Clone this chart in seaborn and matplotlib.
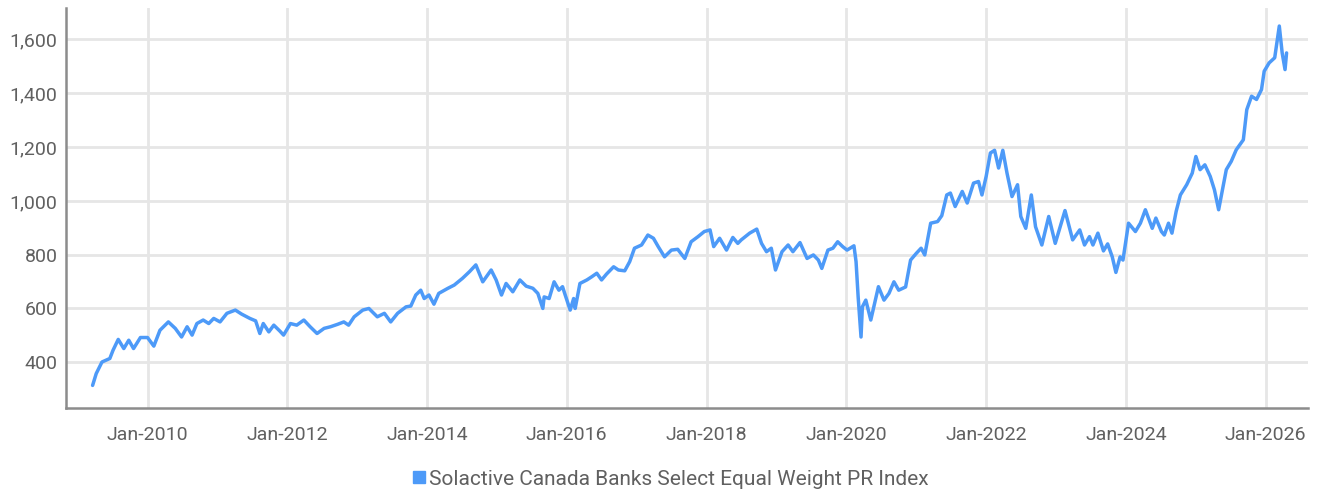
import pandas as pd
import matplotlib
matplotlib.use("Agg")
import matplotlib.pyplot as plt
import matplotlib.dates as mdates
from matplotlib.ticker import FuncFormatter
from matplotlib.lines import Line2D
import seaborn as sns

# values
dates = [
    "2009-03-20", "2009-04-08", "2009-05-08", "2009-06-18", "2009-07-05", "2009-08-01",
    "2009-08-30", "2009-09-25", "2009-10-20", "2009-11-25", "2010-01-01", "2010-02-03",
    "2010-03-07", "2010-04-20", "2010-05-26", "2010-06-28", "2010-07-27", "2010-08-22",
    "2010-09-16", "2010-10-19", "2010-11-17", "2010-12-13", "2011-01-15", "2011-02-20",
    "2011-04-05", "2011-05-08", "2011-06-20", "2011-07-20", "2011-08-11", "2011-08-29",
    "2011-09-27", "2011-10-23", "2011-11-25", "2011-12-13", "2012-01-18", "2012-02-20",
    "2012-03-28", "2012-04-30", "2012-06-05", "2012-07-12", "2012-08-14", "2012-09-20",
    "2012-10-23", "2012-11-17", "2012-12-16", "2013-01-30", "2013-03-03", "2013-04-16",
    "2013-05-23", "2013-06-25", "2013-07-31", "2013-09-13", "2013-10-08", "2013-11-03",
    "2013-11-29", "2013-12-17", "2014-01-11", "2014-02-06", "2014-03-03", "2014-04-20",
    "2014-05-23", "2014-07-05", "2014-08-11", "2014-09-13", "2014-10-19", "2014-12-02",
    "2014-12-28", "2015-01-25", "2015-02-18", "2015-03-25", "2015-05-01", "2015-06-03",
    "2015-07-08", "2015-08-03", "2015-08-29", "2015-09-05", "2015-10-01", "2015-10-27",
    "2015-11-21", "2015-12-10", "2015-12-24", "2016-01-19", "2016-02-06", "2016-02-14",
    "2016-03-10", "2016-04-15", "2016-05-11", "2016-06-06", "2016-07-01", "2016-07-27",
    "2016-09-02", "2016-09-27", "2016-10-30", "2016-11-25", "2016-12-20", "2017-01-26",
    "2017-02-28", "2017-03-29", "2017-04-23", "2017-05-26", "2017-07-01", "2017-08-03",
    "2017-09-09", "2017-10-12", "2017-11-17", "2017-12-20", "2018-01-19", "2018-02-07",
    "2018-03-10", "2018-04-15", "2018-05-18", "2018-06-13", "2018-07-01", "2018-08-14",
    "2018-09-20", "2018-10-15", "2018-11-10", "2018-12-05", "2018-12-27", "2019-01-30",
    "2019-03-03", "2019-03-28", "2019-05-04", "2019-06-10", "2019-07-13", "2019-08-08",
    "2019-08-26", "2019-09-27", "2019-10-23", "2019-11-17", "2019-12-13", "2020-01-05",
    "2020-02-10", "2020-02-21", "2020-03-03", "2020-03-18", "2020-03-25", "2020-04-12",
    "2020-05-08", "2020-06-17", "2020-07-16", "2020-08-11", "2020-09-06", "2020-10-01",
    "2020-11-06", "2020-12-02", "2021-01-01", "2021-01-26", "2021-02-14", "2021-03-17",
    "2021-04-22", "2021-05-14", "2021-06-09", "2021-06-28", "2021-07-23", "2021-08-29",
    "2021-09-24", "2021-10-27", "2021-11-22", "2021-12-10", "2022-01-01", "2022-01-23",
    "2022-02-14", "2022-03-07", "2022-03-29", "2022-04-20", "2022-05-16", "2022-06-14",
    "2022-07-01", "2022-07-27", "2022-08-25", "2022-09-16", "2022-10-19", "2022-11-24",
    "2022-12-28", "2023-02-17", "2023-03-29", "2023-05-05", "2023-05-30", "2023-06-25",
    "2023-07-13", "2023-08-08", "2023-09-06", "2023-09-28", "2023-10-22", "2023-11-10",
    "2023-12-02", "2023-12-17", "2024-01-15", "2024-02-20", "2024-03-17", "2024-04-12",
    "2024-05-18", "2024-06-06", "2024-07-05", "2024-07-20", "2024-08-11", "2024-08-29",
    "2024-09-20", "2024-10-12", "2024-11-14", "2024-12-13", "2025-01-01", "2025-01-23",
    "2025-02-17", "2025-03-17", "2025-04-08", "2025-04-30", "2025-06-09", "2025-07-05",
    "2025-07-31", "2025-09-06", "2025-09-24", "2025-10-19", "2025-11-14", "2025-12-10",
    "2025-12-24", "2026-01-19", "2026-02-17", "2026-03-03", "2026-03-13", "2026-03-28",
    "2026-04-12", "2026-04-20",
]
index_values = [
    314, 358, 401, 414, 445, 485,
    451, 482, 451, 492, 492, 460,
    519, 550, 526, 494, 532, 501,
    544, 557, 544, 563, 550, 582,
    594, 579, 563, 554, 507, 544,
    513, 538, 515, 501, 544, 538,
    557, 532, 507, 526, 532, 541,
    550, 538, 569, 594, 600, 569,
    582, 550, 582, 606, 609, 650,
    668, 637, 650, 616, 656, 675,
    687, 712, 737, 762, 699, 743,
    706, 650, 693, 662, 706, 683,
    675, 656, 600, 643, 637, 699,
    668, 681, 650, 594, 637, 600,
    693, 706, 718, 731, 706, 728,
    755, 743, 740, 774, 824, 836,
    873, 861, 830, 792, 817, 820,
    786, 848, 867, 886, 892, 830,
    861, 817, 864, 842, 855, 880,
    895, 842, 811, 824, 743, 811,
    836, 811, 845, 786, 799, 780,
    749, 817, 824, 848, 830, 817,
    833, 774, 643, 494, 606, 631,
    557, 681, 631, 656, 699, 668,
    680, 780, 805, 824, 799, 917,
    923, 945, 1022, 1029, 979, 1035,
    992, 1066, 1072, 1022, 1091, 1178,
    1188, 1122, 1188, 1103, 1016, 1060,
    942, 898, 1022, 904, 836, 942,
    842, 964, 855, 892, 836, 867,
    836, 880, 814, 840, 792, 734,
    792, 780, 917, 886, 917, 967,
    898, 936, 886, 873, 917, 880,
    961, 1022, 1060, 1103, 1165, 1116,
    1134, 1091, 1041, 967, 1116, 1147,
    1190, 1227, 1339, 1389, 1377, 1414,
    1482, 1513, 1532, 1600, 1650, 1550,
    1488, 1550,
]
series_name = "Solactive Canada Banks Select Equal Weight PR Index"
tick_years = list(range(2010, 2027, 2))
y_ticks = [400, 600, 800, 1000, 1200, 1400, 1600]

df = pd.DataFrame({"date": pd.to_datetime(dates), "value": index_values})

sns.set_style("white")
plt.rcParams["font.family"] = ["Roboto", "DejaVu Sans"]

line_color = "#4d9af8"
text_color = "#606060"

fig = plt.figure(figsize=(13.21, 4.93), dpi=100)
ax = fig.add_axes([66 / 1321, 1 - 408 / 493, (1308 - 66) / 1321, 400 / 493])

sns.lineplot(data=df, x="date", y="value", ax=ax, color=line_color, linewidth=2.5)

ax.set_xlim(pd.Timestamp("2008-11-01"), pd.Timestamp("2026-08-10"))
ax.set_ylim(230, 1717)

ax.set_xticks([pd.Timestamp(f"{y}-01-01") for y in tick_years])
ax.xaxis.set_major_formatter(mdates.DateFormatter("%b-%Y"))
ax.set_yticks(y_ticks)
ax.yaxis.set_major_formatter(FuncFormatter(lambda v, p: f"{v:,.0f}"))

ax.grid(True, color="#e6e6e6", linewidth=2)
ax.set_axisbelow(True)
ax.tick_params(axis="both", length=0, labelsize=14, labelcolor=text_color)
ax.tick_params(axis="y", pad=6)
ax.tick_params(axis="x", pad=13)
ax.set_xlabel("")
ax.set_ylabel("")

for side in ["top", "right"]:
    ax.spines[side].set_visible(False)
for side in ["left", "bottom"]:
    ax.spines[side].set_color("#8c8c8c")
    ax.spines[side].set_linewidth(1.8)

handle = Line2D([], [], marker="s", linestyle="none", color=line_color, markersize=8)
leg = fig.legend([handle], [series_name], loc="center", bbox_to_anchor=(0.507, 0.028),
                 frameon=False, fontsize=15, handletextpad=0.1, handlelength=0.8)
for t in leg.get_texts():
    t.set_color(text_color)

fig.savefig("out.png", dpi=100)
